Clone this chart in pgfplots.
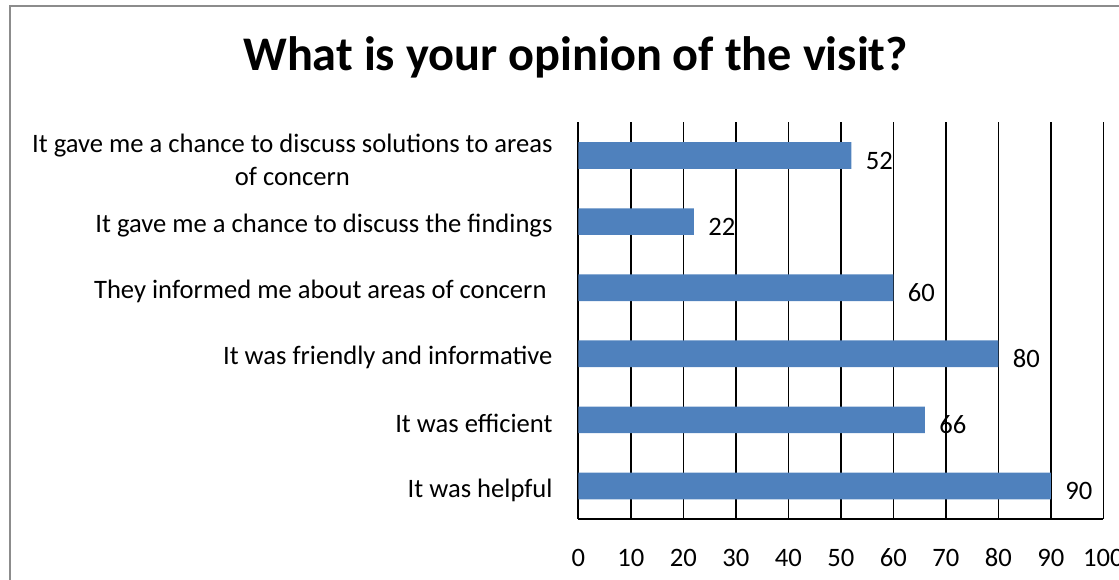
\documentclass[border=0pt]{standalone}
\usepackage{pgfplots}
\pgfplotsset{compat=1.18}
\usepackage{fontspec}
\setmainfont{Carlito}
\definecolor{barblue}{RGB}{79,129,189}
\newcommand{\lblfont}{\fontsize{26.6}{33}\selectfont}
\begin{document}
\begin{tikzpicture}[x=1pt,y=1pt]
\useasboundingbox (0,0) rectangle (1119,580);
\draw[black!45, line width=1.5pt] (10,-20) -- (10,574) -- (1140,574);
\node[font=\fontsize{48.3}{58}\selectfont\bfseries] at (575.5,523) {What is your opinion of the visit?};
\begin{axis}[
  at={(578.3pt,61pt)}, anchor=south west,
  scale only axis, width=525pt, height=396.5pt,
  xmin=0, xmax=100, ymin=-0.5, ymax=5.5,
  xbar, bar width=26.7pt,
  xtick={0,10,...,100}, ytick={0,...,5},
  yticklabels={It was helpful, It was efficient, It was friendly and informative,
    They informed me about areas of concern\kern6pt, It gave me a chance to discuss the findings,
    {It gave me a chance to discuss solutions to areas\\of concern}},
  xmajorgrids, major grid style={black, line width=1.5pt},
  axis x line*=bottom, axis y line*=left,
  axis line style={-, black, line width=2pt},
  tick style={draw=none},
  /pgf/number format/assume math mode=true,
  xticklabel style={font=\lblfont, text height=17pt, text depth=0pt, yshift=-26.7pt},
  yticklabel style={font=\lblfont, align=center, xshift=-18pt, yshift=-4pt},
  nodes near coords,
  nodes near coords style={font=\lblfont, text height=17pt, text depth=0pt, anchor=west, xshift=11pt, yshift=-5pt, text=black},
  clip=false,
]
\addplot[fill=barblue, draw=none] coordinates {(90,0) (66,1) (80,2) (60,3) (22,4) (52,5)};
\end{axis}
\end{tikzpicture}
\end{document}
